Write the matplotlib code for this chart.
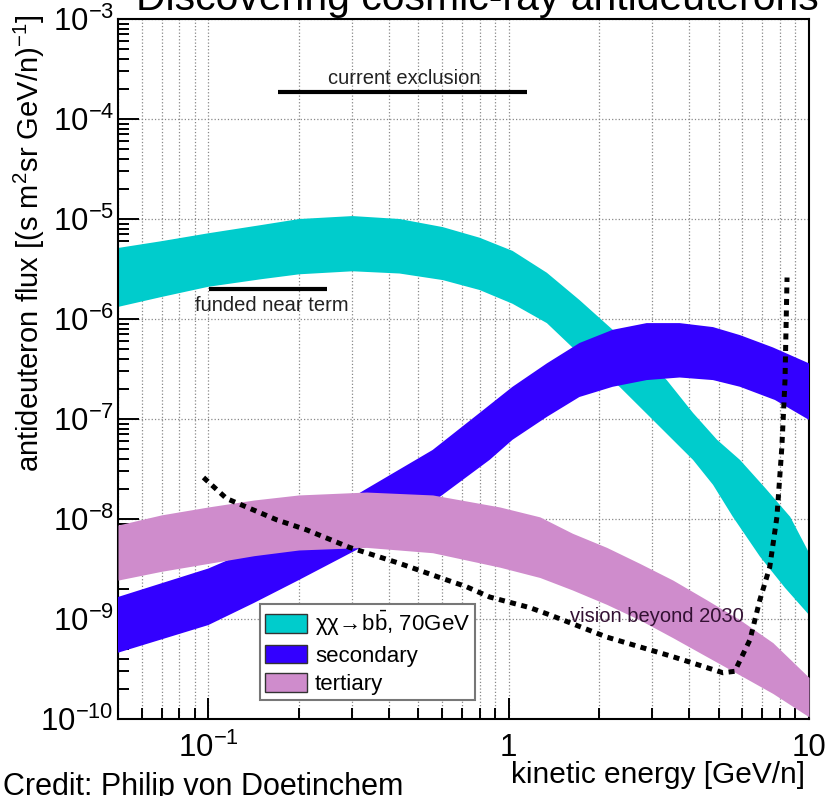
import matplotlib
matplotlib.use('Agg')
import matplotlib.pyplot as plt
from matplotlib import font_manager
from matplotlib.patches import Patch
from matplotlib.ticker import FixedLocator, FixedFormatter, LogLocator, NullFormatter

# chi chi -> b bbar, 70 GeV band (upper / lower edge)
chi_up_e = [0.05, 0.0698, 0.1, 0.15, 0.201, 0.302, 0.433, 0.603, 0.80, 1.03, 1.34, 1.72,
            2.22, 2.73, 3.36, 4.11, 4.94, 5.89, 7.14, 8.66, 10]
chi_up_f = [5.13e-6, 6.0e-6, 7.2e-6, 8.7e-6, 1.0e-5, 1.07e-5, 1.0e-5, 8.3e-6, 6.5e-6, 4.8e-6,
            2.9e-6, 1.55e-6, 7.8e-7, 4.4e-7, 2.45e-7, 1.15e-7, 6.2e-8, 3.9e-8, 2.05e-8,
            1.05e-8, 4.6e-9]
chi_lo_e = [0.05, 0.0698, 0.1, 0.15, 0.201, 0.302, 0.433, 0.603, 0.80, 1.03, 1.34, 1.63,
            2.34, 3.02, 4.11, 4.79, 5.58, 6.87, 8.32, 10]
chi_lo_f = [1.32e-6, 1.66e-6, 2.1e-6, 2.5e-6, 2.8e-6, 3.0e-6, 2.85e-6, 2.45e-6, 1.95e-6, 1.42e-6,
            9.1e-7, 5.2e-7, 2.1e-7, 9.8e-8, 3.9e-8, 2.2e-8, 1.05e-8, 4.2e-9, 2.05e-9, 1.1e-9]

# secondary band
sec_up_e = [0.05, 0.1, 0.2, 0.331, 0.558, 0.80, 1.03, 1.34, 1.72, 2.22, 2.88, 3.71, 4.79,
            5.89, 7.58, 10]
sec_up_f = [1.66e-9, 3.2e-9, 7.8e-9, 1.95e-8, 4.9e-8, 1.15e-7, 2.1e-7, 3.6e-7, 5.75e-7,
            7.8e-7, 9.1e-7, 9.1e-7, 8.3e-7, 6.9e-7, 5.2e-7, 3.6e-7]
sec_lo_e = [0.05, 0.1, 0.142, 0.2, 0.319, 0.589, 0.864, 1.03, 1.34, 1.72, 2.22, 2.88, 3.71,
            4.79, 5.89, 7.70, 10]
sec_lo_f = [4.6e-10, 8.7e-10, 1.45e-9, 2.45e-9, 5.1e-9, 1.66e-8, 3.9e-8, 6.2e-8, 1.05e-7,
            1.66e-7, 2.1e-7, 2.45e-7, 2.6e-7, 2.45e-7, 2.1e-7, 1.55e-7, 9.8e-8]

# tertiary band
ter_e = [0.05, 0.0698, 0.1, 0.142, 0.2, 0.336, 0.558, 0.933, 1.27, 1.63, 2.12, 2.73, 3.52,
         4.57, 5.89, 7.58, 10]
ter_up = [8.7e-9, 1.1e-8, 1.32e-8, 1.55e-8, 1.74e-8, 1.86e-8, 1.74e-8, 1.32e-8, 1.05e-8,
          7.2e-9, 5.2e-9, 3.6e-9, 2.45e-9, 1.55e-9, 9.8e-10, 5.8e-10, 2.6e-10]
ter_lo = [2.45e-9, 3.0e-9, 3.6e-9, 4.3e-9, 4.9e-9, 5.2e-9, 4.6e-9, 3.3e-9, 2.6e-9, 1.95e-9,
          1.4e-9, 9.8e-10, 6.5e-10, 4.2e-10, 2.75e-10, 1.8e-10, 1.05e-10]

# "vision beyond 2030" sensitivity
vis_e = [0.0963, 0.115, 0.169, 0.212, 0.295, 0.433, 0.589, 0.724, 0.864, 1.175, 1.37, 2.12,
         3.52, 5.17, 5.66, 6.36, 6.86, 7.40, 7.82, 8.12, 8.32, 8.45]
vis_f = [2.6e-8, 1.6e-8, 9.8e-9, 7.8e-9, 5.2e-9, 3.6e-9, 2.6e-9, 2.1e-9, 1.66e-9, 1.3e-9,
         1.1e-9, 6.6e-10, 4.2e-10, 2.9e-10, 3.0e-10, 6.2e-10, 1.55e-9, 3.3e-9, 1.05e-8,
         5.2e-8, 2.45e-7, 2.6e-6]

# horizontal sensitivity bars
excl_e = [0.171, 1.148]
excl_f = 1.86e-4
near_e = [0.1005, 0.249]
near_f = 2.0e-6

xticks = [0.1, 1, 10]
xticklabels = [r'$10^{-1}$', '1', '10']

names = {f.name for f in font_manager.fontManager.ttflist}
if 'Liberation Sans Narrow' in names:
    axfont, axsize, labsize = 'Liberation Sans Narrow', 26, 26
else:
    axfont, axsize, labsize = 'Liberation Sans', 22.5, 21

plt.rcParams['font.family'] = ['Liberation Sans', 'DejaVu Sans']
plt.rcParams['mathtext.fontset'] = 'custom'
plt.rcParams['mathtext.rm'] = axfont
plt.rcParams['mathtext.it'] = axfont + ':italic'
plt.rcParams['mathtext.default'] = 'regular'

c_chi = '#00cccc'
c_sec = '#3300ff'
c_ter = '#cf8ccc'

fig = plt.figure(figsize=(8.3, 7.96), dpi=100)
ax = fig.add_axes([118 / 830, 1 - 719 / 796, 691 / 830, 700 / 796])

ax.fill(chi_up_e + chi_lo_e[::-1], chi_up_f + chi_lo_f[::-1], color=c_chi, lw=0, zorder=2)
ax.fill(sec_up_e + sec_lo_e[::-1], sec_up_f + sec_lo_f[::-1], color=c_sec, lw=0, zorder=3)
ax.fill_between(ter_e, ter_lo, ter_up, color=c_ter, lw=0, zorder=4)
ax.plot(vis_e, vis_f, color='black', lw=3.6, ls=(0, (1.2, 1.1)), zorder=6)

ax.plot(excl_e, [excl_f, excl_f], color='black', lw=3, solid_capstyle='butt', zorder=6)
ax.plot(near_e, [near_f, near_f], color='black', lw=3, solid_capstyle='butt', zorder=6)
ax.text(0.45, 2.57e-4, 'current exclusion', fontsize=14.5, ha='center', va='center', color='#222')
ax.text(0.162, 1.38e-6, 'funded near term', fontsize=14.5, ha='center', va='center', color='#222')
ax.text(3.11, 1.05e-9, 'vision beyond 2030', fontsize=14.5, ha='center', va='center',
        color='#331133', zorder=7)

ax.set_xscale('log')
ax.set_yscale('log')
ax.set_xlim(0.05, 10)
ax.set_ylim(1e-10, 1e-3)

ax.xaxis.set_major_locator(FixedLocator(xticks))
ax.xaxis.set_major_formatter(FixedFormatter(xticklabels))
ax.xaxis.set_minor_locator(LogLocator(base=10, subs=range(2, 10), numticks=20))
ax.xaxis.set_minor_formatter(NullFormatter())
ax.yaxis.set_major_locator(LogLocator(base=10, numticks=20))
ax.yaxis.set_minor_locator(LogLocator(base=10, subs=range(2, 10), numticks=20))
ax.yaxis.set_minor_formatter(NullFormatter())

ax.grid(True, which='major', axis='both', ls=':', color='#888', lw=0.9, zorder=1)
ax.grid(True, which='minor', axis='x', ls=':', color='#888', lw=0.9, zorder=1)
ax.set_axisbelow(True)

ax.tick_params(which='both', direction='in', top=False, right=False, width=1.4, colors='black')
ax.tick_params(which='major', length=15)
ax.tick_params(which='minor', length=8)
ax.tick_params(axis='x', which='major', pad=10)
ax.tick_params(axis='y', which='major', pad=3)
for lab in ax.get_xticklabels() + ax.get_yticklabels():
    lab.set_fontfamily(axfont)
    lab.set_fontsize(axsize)
for s in ax.spines.values():
    s.set_linewidth(1.5)

ax.set_ylabel(r'antideuteron flux [(s m$^{2}$sr GeV/n)$^{-1}$]', fontfamily=axfont,
              fontsize=labsize, loc='top')
ax.yaxis.set_label_coords(-0.103, 1.006)
fig.text(805 / 830, 1 - 775 / 796, 'kinetic energy [GeV/n]', fontfamily=axfont,
         fontsize=21.5, ha='right', va='center')

handles = [Patch(facecolor=c_chi, edgecolor='#333', lw=1),
           Patch(facecolor=c_sec, edgecolor='#333', lw=1),
           Patch(facecolor=c_ter, edgecolor='#333', lw=1)]
labels = [r'$\chi\chi\!\rightarrow\!\mathrm{b\bar{b}}$, 70GeV', 'secondary', 'tertiary']
leg = ax.legend(handles, labels, loc='lower left', bbox_to_anchor=(0.2055, 0.027),
                borderaxespad=0, fontsize=16, handlelength=1.9, handleheight=0.9,
                handletextpad=0.35, labelspacing=0.3, borderpad=0.22,
                fancybox=False, framealpha=1, edgecolor='#777')
leg.get_frame().set_linewidth(1.5)
leg.set_zorder(8)

fig.text((135 + 820) / 2 / 830, 1 - 10 / 796, 'Discovering cosmic-ray antideuterons',
         fontsize=29.4, ha='center', va='baseline')
fig.text(3 / 830, 1 - 795 / 796, 'Credit: Philip von Doetinchem', fontsize=22,
         ha='left', va='baseline')

fig.savefig('out.png', dpi=100)
